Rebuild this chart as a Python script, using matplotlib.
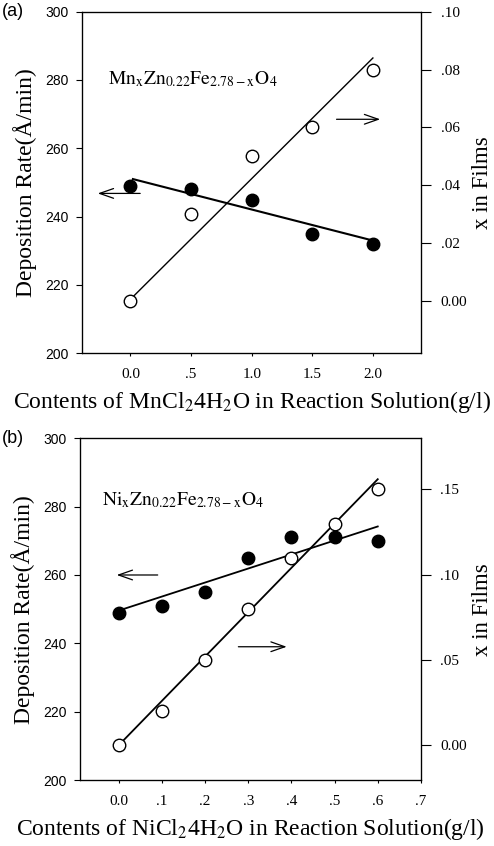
import matplotlib
matplotlib.use("Agg")
import matplotlib.pyplot as plt

plt.rcParams['mathtext.fontset'] = 'stix'
plt.rcParams['font.family'] = ['Liberation Serif', 'DejaVu Serif']

# panel (a): MnCl2 series
mn_conc = [0.0, 0.5, 1.0, 1.5, 2.0]
mn_rate = [249, 248, 245, 235, 232]
mn_xfilm = [0.0, 0.03, 0.05, 0.06, 0.08]
mn_fit_x = [0.02, 2.0]
mn_rate_fit = [251.0, 233.0]
mn_xfilm_fit = [0.0015, 0.084]
mn_xticks = [0.0, 0.5, 1.0, 1.5, 2.0]
mn_xticklabels = ["0.0", ".5", "1.0", "1.5", "2.0"]
mn_rticks = [0.0, 0.02, 0.04, 0.06, 0.08, 0.10]
mn_rticklabels = ["0.00", ".02", ".04", ".06", ".08", ".10"]

# panel (b): NiCl2 series
ni_conc = [0.0, 0.1, 0.2, 0.3, 0.4, 0.5, 0.6]
ni_rate = [249, 251, 255, 265, 271, 271, 270]
ni_xfilm = [0.0, 0.02, 0.05, 0.08, 0.11, 0.13, 0.15]
ni_fit_x = [0.0, 0.6]
ni_rate_fit = [249.6, 274.2]
ni_xfilm_fit = [0.0, 0.156]
ni_xticks = [0.0, 0.1, 0.2, 0.3, 0.4, 0.5, 0.6, 0.7]
ni_xticklabels = ["0.0", ".1", ".2", ".3", ".4", ".5", ".6", ".7"]
ni_rticks = [0.0, 0.05, 0.10, 0.15]
ni_rticklabels = ["0.00", ".05", ".10", ".15"]

rate_ticks = [200, 220, 240, 260, 280, 300]

SANS = 'Liberation Sans'


def arrow(ax, tail, tip):
	ax.annotate("", xy=tip, xytext=tail,
				arrowprops=dict(arrowstyle="->,head_length=1.0,head_width=0.35",
								lw=0.9, color="black", shrinkA=0, shrinkB=0,
								mutation_scale=10))


def panel(fig, rect, tag, conc, rate, xfilm, fit_x, rate_fit, xfilm_fit,
		  xlim, rlim, xticks, xticklabels, rticks, rticklabels,
		  formula, xlabel, rate_lw, x_lw, left_arrow, right_arrow):
	ax = fig.add_axes(rect)
	ax.set_xlim(*xlim)
	ax.set_ylim(200, 300)
	ax.plot(fit_x, rate_fit, color="black", lw=rate_lw, zorder=2)
	ax.plot(conc, rate, "o", color="black", ms=9, zorder=4)

	ax.set_xticks(xticks)
	ax.set_xticklabels(xticklabels, fontsize=11)
	ax.set_yticks(rate_ticks)
	ax.set_yticklabels([str(v) for v in rate_ticks], fontsize=10, family=SANS)
	ax.tick_params(axis='y', direction='out', length=4.5, width=0.8, pad=5)
	ax.tick_params(axis='x', direction='out', length=2.5, width=0.8, pad=8)
	for s in ax.spines.values():
		s.set_linewidth(0.9)

	ax.set_ylabel("Deposition Rate(Å/min)", fontsize=17)
	ax.yaxis.set_label_coords(-0.133, 0.5)
	ax.set_xlabel(xlabel, fontsize=17)
	ax.xaxis.set_label_coords(0.5, -0.105)

	ax2 = ax.twinx()
	ax2.set_ylim(*rlim)
	ax2.plot(fit_x, xfilm_fit, color="black", lw=x_lw, zorder=2)
	ax2.plot(conc, xfilm, "o", mfc="white", mec="black", mew=1.0, ms=9, zorder=4)
	ax2.set_yticks(rticks)
	ax2.set_yticklabels(rticklabels, fontsize=11)
	ax2.tick_params(axis='y', direction='out', length=7, width=0.8, pad=7)
	ax2.set_ylabel("x in Films", fontsize=16.5)
	ax2.yaxis.set_label_coords(1.15, 0.5)

	ax.text(*formula[0], formula[1], transform=ax.transAxes, fontsize=14,
			va="baseline", ha="left")
	arrow(ax, *left_arrow)
	arrow(ax, *right_arrow)

	fig.text(0.004, rect[1] + rect[3], tag, family=SANS, fontsize=13,
			 va="center", ha="left")
	return ax, ax2


fig = plt.figure(figsize=(4.94, 8.46), dpi=100)

panel(fig, [0.166, 0.5824, 0.687, 0.4038], "(a)",
	  mn_conc, mn_rate, mn_xfilm, mn_fit_x, mn_rate_fit, mn_xfilm_fit,
	  (-0.4, 2.4), (-0.018, 0.10), mn_xticks, mn_xticklabels, mn_rticks, mn_rticklabels,
	  ((0.077, 0.786), r"$\mathrm{Mn_xZn_{0.22}Fe_{2.78-x}O_4}$"),
	  r"Contents of MnCl$_2$4H$_2$O in Reaction Solution(g/l)",
	  1.5, 1.0,
	  ((0.08, 246.8), (-0.27, 246.8)), ((1.70, 268.5), (2.06, 268.5)))

panel(fig, [0.162, 0.078, 0.690, 0.4039], "(b)",
	  ni_conc, ni_rate, ni_xfilm, ni_fit_x, ni_rate_fit, ni_xfilm_fit,
	  (-0.09, 0.7), (-0.0205, 0.18), ni_xticks, ni_xticklabels, ni_rticks, ni_rticklabels,
	  ((0.064, 0.805), r"$\mathrm{Ni_xZn_{0.22}Fe_{2.78-x}O_4}$"),
	  r"Contents of NiCl$_2$4H$_2$O in Reaction Solution(g/l)",
	  1.3, 1.3,
	  ((0.09, 260), (-0.005, 260)), ((0.277, 239), (0.389, 239)))

fig.savefig("out.png", dpi=100)
